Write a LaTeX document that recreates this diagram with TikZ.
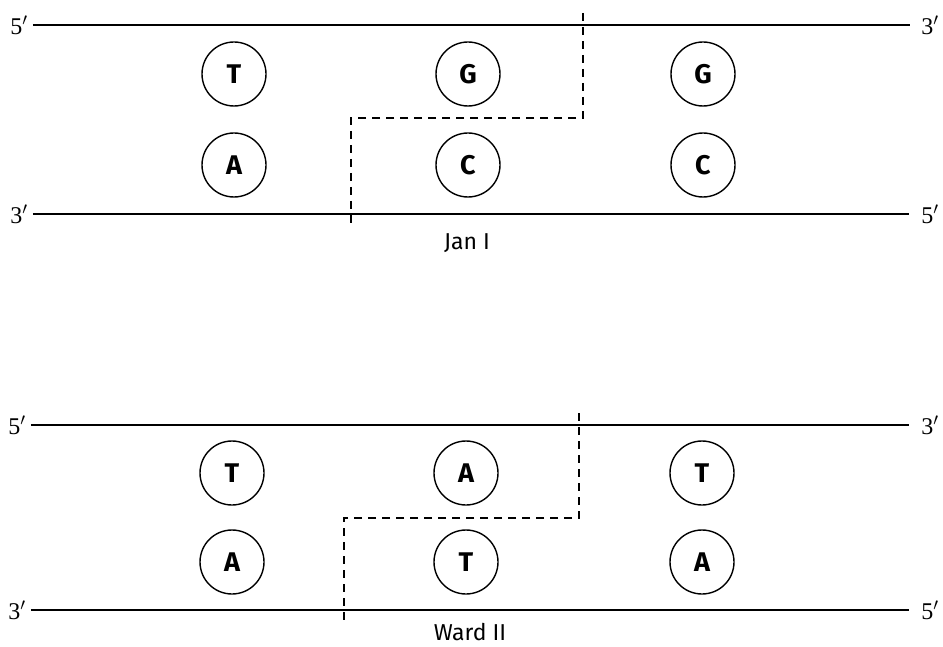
\documentclass[tikz,border=0pt]{standalone}
\usepackage{fontspec}
\setmainfont{Fira Sans}
\newfontfamily\endfont{Liberation Serif}
\begin{document}
\begin{tikzpicture}[x=1pt,y=-1pt,
  strand/.style={line width=2.2pt},
  base/.style={circle,draw,line width=1.4pt,minimum size=64pt,inner sep=0pt,font=\fontsize{27}{27}\selectfont\bfseries},
  endlab/.style={font=\endfont\fontsize{24}{24}\selectfont,inner sep=0pt},
  cut/.style={line width=1.8pt,dash pattern=on 8pt off 6pt},
  caplabel/.style={font=\fontsize{23}{23}\selectfont,inner sep=0pt}]
\useasboundingbox (0,0) rectangle (943,647);
% ---- Jan I ----
\node[endlab] (a5) at (19,25) {5$'$};
\node[endlab] (a3r) at (930,25) {3$'$};
\node[endlab] (a3) at (19,214) {3$'$};
\node[endlab] (a5r) at (930,214) {5$'$};
\draw[strand] (a5.east) ++(5,0) -- (910,25);
\draw[strand] (a3.east) ++(5,0) -- (909,214);
\node[base] (t1) at (234,74) {T};
\node[base] (a1) at (234,165) {A};
\node[base] (g1) at (468,74) {G};
\node[base] (c1) at (468,165) {C};
\node[base] (g2) at (703,74) {G};
\node[base] (c2) at (703,165) {C};
\coordinate (p1) at (583,13);
\coordinate (p2) at (583,118);
\coordinate (p3) at (351,118);
\coordinate (p4) at (351,225);
\draw[cut] (p1) -- (p2) -- (p3) -- (p4);
\node[caplabel] (jan) at (467,243) {Jan I};
% ---- Ward II ----
\node[endlab] (b5) at (17,425) {5$'$};
\node[endlab] (b3r) at (930,425) {3$'$};
\node[endlab] (b3) at (17,610) {3$'$};
\node[endlab] (b5r) at (930,610) {5$'$};
\draw[strand] (b5.east) ++(5,0) -- (909,425);
\draw[strand] (b3.east) ++(5,0) -- (909,610);
\node[base] (t3) at (232,473) {T};
\node[base] (a3b) at (232,562) {A};
\node[base] (a4) at (466,473) {A};
\node[base] (t4) at (466,562) {T};
\node[base] (t5) at (702,473) {T};
\node[base] (a5b) at (702,562) {A};
\coordinate (q1) at (579,413);
\coordinate (q2) at (579,518);
\coordinate (q3) at (344,518);
\coordinate (q4) at (344,622);
\draw[cut] (q1) -- (q2) -- (q3) -- (q4);
\node[caplabel] (ward) at (470,632) {Ward II};
\end{tikzpicture}
\end{document}
